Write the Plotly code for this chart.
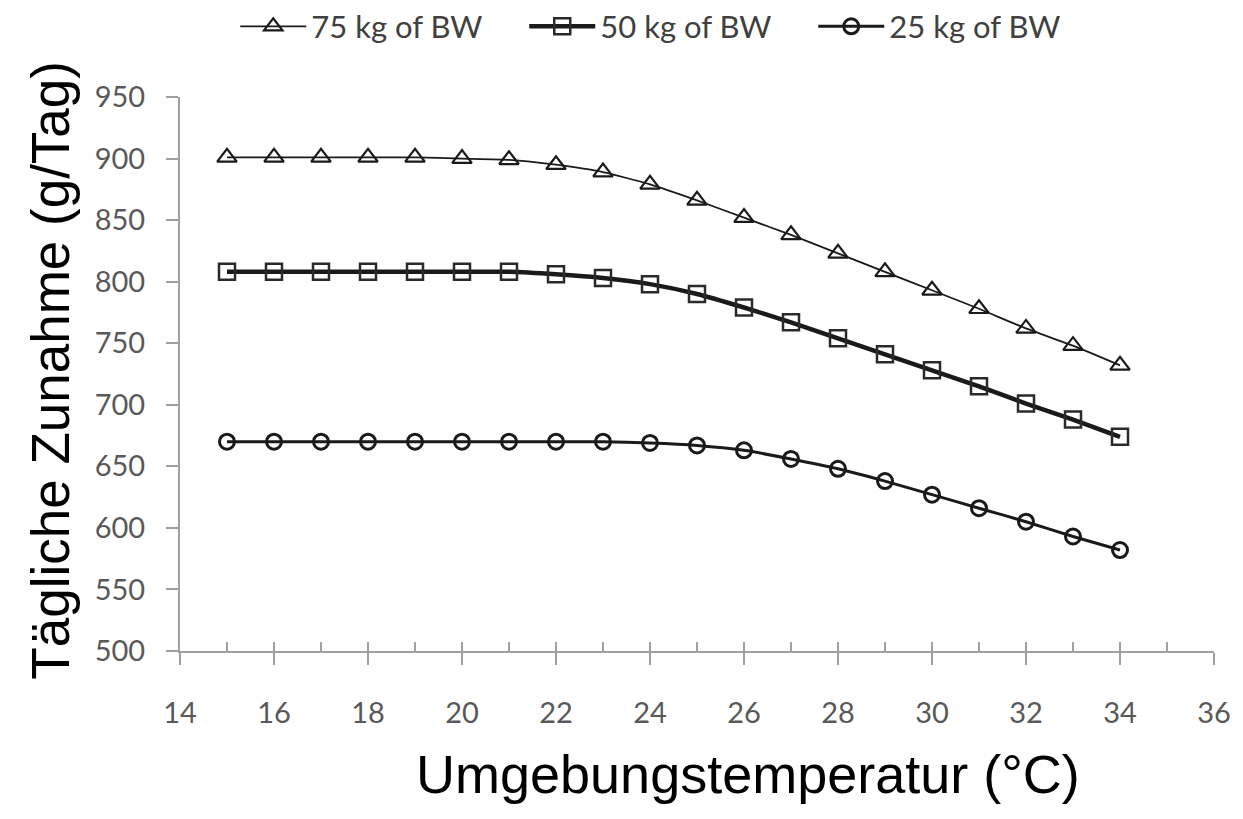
import plotly.graph_objects as go

temps = list(range(15, 35))
bw75 = [901, 901, 901, 901, 901, 900, 899, 895, 889, 879, 866, 852, 838, 823, 808, 793, 778, 762, 748, 732]
bw50 = [808, 808, 808, 808, 808, 808, 808, 806, 803, 798, 790, 779, 767, 754, 741, 728, 715, 701, 688, 674]
bw25 = [670, 670, 670, 670, 670, 670, 670, 670, 670, 669, 667, 663, 656, 648, 638, 627, 616, 605, 593, 582]

names = ["75 kg of BW", "50 kg of BW", "25 kg of BW"]
x_title = "Umgebungstemperatur (°C)"
y_title = "Tägliche Zunahme (g/Tag)"

tickfont = dict(family="Lato, Carlito, sans-serif", size=29, color="#595959")

fig = go.Figure()
fig.add_trace(go.Scatter(
    x=temps, y=bw75, name=names[0], mode="lines+markers",
    line=dict(color="#1a1a1a", width=1.8, shape="spline", smoothing=0.5),
    marker=dict(symbol="triangle-up-open", size=17, color="#1a1a1a", line=dict(width=2.2)),
))
fig.add_trace(go.Scatter(
    x=temps, y=bw50, name=names[1], mode="lines+markers",
    line=dict(color="#1a1a1a", width=4.5, shape="spline", smoothing=0.5),
    marker=dict(symbol="square-open", size=16, color="#2a2a2a", line=dict(width=2.5)),
))
fig.add_trace(go.Scatter(
    x=temps, y=bw25, name=names[2], mode="lines+markers",
    line=dict(color="#1a1a1a", width=3, shape="spline", smoothing=0.5),
    marker=dict(symbol="circle-open", size=15, color="#1a1a1a", line=dict(width=3)),
))
# overlay axis for the upward (inside) minor ticks
fig.add_trace(go.Scatter(x=[14, 36], y=[500, 500], xaxis="x2", mode="lines",
                         line=dict(width=0), showlegend=False, hoverinfo="skip"))

fig.update_layout(
    width=1235, height=811,
    paper_bgcolor="white", plot_bgcolor="white",
    margin=dict(l=172, r=25, t=89, b=168),
    showlegend=True,
    legend=dict(orientation="h", xref="container", yref="container",
                x=0.184, xanchor="left", y=0.977, yanchor="middle",
                font=dict(family="Lato, Carlito, sans-serif", size=31, color="#404040"),
                itemwidth=66, entrywidth=208, entrywidthmode="pixels",
                tracegroupgap=0),
    xaxis=dict(range=[14, 36], tickmode="linear", tick0=14, dtick=2,
               showgrid=False, zeroline=False, showline=True,
               linecolor="#a0a0a0", linewidth=2,
               ticks="outside", ticklen=12, tickwidth=2, tickcolor="#a0a0a0",
               tickfont=tickfont, ticklabelstandoff=23),
    xaxis2=dict(range=[14, 36], overlaying="x", tickmode="linear", tick0=14, dtick=1,
                showgrid=False, zeroline=False, showline=False, side="bottom",
                ticks="inside", ticklen=9, tickwidth=2, tickcolor="#a0a0a0",
                showticklabels=False),
    yaxis=dict(range=[500, 950], tickmode="linear", tick0=500, dtick=50,
               showgrid=False, zeroline=False, showline=True,
               linecolor="#a0a0a0", linewidth=2,
               ticks="outside", ticklen=12, tickwidth=2, tickcolor="#a0a0a0",
               tickfont=tickfont, ticklabelstandoff=15),
    annotations=[
        dict(text=x_title, xref="paper", yref="paper", x=0.549, y=-0.222,
             xanchor="center", yanchor="middle", showarrow=False,
             font=dict(family="Liberation Sans, Arial, sans-serif", size=54, color="black")),
        dict(text=y_title, xref="paper", yref="paper", x=-0.1252, y=0.507,
             xanchor="center", yanchor="middle", textangle=-90, showarrow=False,
             font=dict(family="Liberation Sans, Arial, sans-serif", size=53, color="black")),
    ],
)

fig.write_html("out.html")
